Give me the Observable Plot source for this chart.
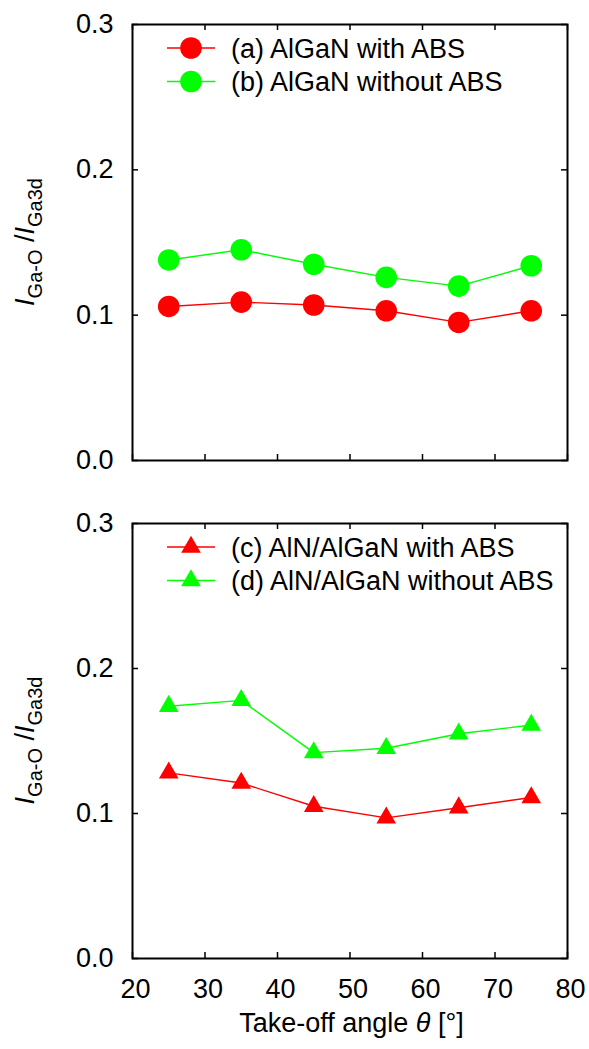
<!DOCTYPE html>
<html><head><meta charset="utf-8">
<script src="https://cdn.jsdelivr.net/npm/d3@7"></script>
<script src="https://cdn.jsdelivr.net/npm/@observablehq/plot@0.6"></script>
<style>
body{margin:0;background:#fff;}
#chart svg{display:block;}
</style>
</head><body><div id="chart"></div>
<script>
// ---- data ----
const angles = [25, 35, 45, 55, 65, 75];
const alganWith = [0.106, 0.109, 0.107, 0.103, 0.095, 0.103];
const alganWithout = [0.138, 0.145, 0.135, 0.126, 0.120, 0.134];
const alnWith = [0.128, 0.121, 0.105, 0.097, 0.104, 0.111];
const alnWithout = [0.174, 0.178, 0.142, 0.145, 0.155, 0.161];
const labelsTop = ["(a) AlGaN with ABS", "(b) AlGaN without ABS"];
const labelsBottom = ["(c) AlN/AlGaN with ABS", "(d) AlN/AlGaN without ABS"];
const colors = ["#ff0000", "#00ff00"];
const xTicks = [20, 30, 40, 50, 60, 70, 80];
const yTicks = [0, 0.1, 0.2, 0.3];
const xLabel = "Take-off angle ";
const xLabelSym = "θ";
const xLabelUnit = " [°]";

const FONT = "'Liberation Sans', Arial, Helvetica, sans-serif";
const W = 589;
const ML = 132, MR = 22;
const PW = W - ML - MR;

function rows(labels, seriesArr) {
  const out = [];
  labels.forEach((lab, i) => {
    angles.forEach((a, j) => out.push({angle: a, v: seriesArr[i][j], series: lab, color: colors[i]}));
  });
  return out;
}

function panel({height, marginTop, marginBottom, labels, series, symbol, r, showX}) {
  const PH = height - marginTop - marginBottom;
  const data = rows(labels, series);
  const marks = [
    Plot.ruleX(xTicks, {x: d => d, insetTop: PH - 6, stroke: "#000", strokeWidth: 1.5}),
    Plot.ruleX(xTicks, {x: d => d, insetBottom: PH - 6, stroke: "#000", strokeWidth: 1.5}),
    Plot.ruleY(yTicks, {y: d => d, insetRight: PW - 6, stroke: "#000", strokeWidth: 1.5}),
    Plot.ruleY(yTicks, {y: d => d, insetLeft: PW - 6, stroke: "#000", strokeWidth: 1.5}),
  ];
  labels.forEach((lab, i) => {
    const d = data.filter(p => p.series === lab);
    marks.push(Plot.line(d, {x: "angle", y: "v", stroke: colors[i], strokeWidth: 1.4}));
    marks.push(Plot.dot(d, {x: "angle", y: "v", fill: colors[i], stroke: "none", r, symbol}));
  });
  marks.push(Plot.axisY({ticks: yTicks, tickSize: 0, tickPadding: 19, tickFormat: d3.format(".1f"), label: null, fontSize: 27}));
  if (showX) marks.push(Plot.axisX({ticks: xTicks, tickSize: 0, tickPadding: 20, label: null, fontSize: 27, dx: 3}));
  marks.push(Plot.frame({stroke: "#000", strokeWidth: 2}));
  const svg = Plot.plot({
    width: W, height, marginTop, marginBottom, marginLeft: ML, marginRight: MR,
    x: {domain: [20, 80], axis: showX ? undefined : null},
    y: {domain: [0, 0.3]},
    style: {fontFamily: FONT, fontSize: "27px", color: "#000", background: "#fff", overflow: "visible"},
    marks
  });
  const s = d3.select(svg);
  // y-axis label with subscripts
  const cy = marginTop + PH / 2;
  const t = s.append("text")
    .attr("transform", `translate(34,${cy}) rotate(-90)`)
    .attr("text-anchor", "middle")
    .attr("font-family", FONT).attr("font-size", 27).attr("fill", "#000");
  t.append("tspan").attr("font-style", "italic").text("I");
  t.append("tspan").attr("font-size", 20).attr("dy", 8).text("Ga-O");
  t.append("tspan").attr("dy", -8).text(" /");
  t.append("tspan").attr("font-style", "italic").text("I");
  t.append("tspan").attr("font-size", 20).attr("dy", 8).text("Ga3d");
  // legend
  const sym = symbol === "triangle" ? d3.symbolTriangle : d3.symbolCircle;
  labels.forEach((lab, i) => {
    const ly = marginTop + 24 + i * 33.5;
    const g = s.append("g");
    g.append("line").attr("x1", 167).attr("x2", 215).attr("y1", ly).attr("y2", ly)
      .attr("stroke", colors[i]).attr("stroke-width", 1.4);
    g.append("path").attr("transform", `translate(191,${ly})`)
      .attr("d", d3.symbol(sym, Math.PI * r * r)()).attr("fill", colors[i]);
    g.append("text").attr("x", 231).attr("y", ly).attr("dy", "0.36em")
      .attr("text-anchor", "start")
      .attr("font-family", FONT).attr("font-size", 27).attr("fill", "#000").text(lab);
  });
  if (showX) {
    const xl = s.append("text").attr("x", ML + PW / 2 + 2).attr("y", 1032 - 490)
      .attr("text-anchor", "middle").attr("font-family", FONT).attr("font-size", 27).attr("fill", "#000");
    xl.append("tspan").text(xLabel);
    xl.append("tspan").attr("font-style", "italic").text(xLabelSym);
    xl.append("tspan").text(xLabelUnit);
  }
  return svg;
}

const root = document.getElementById("chart");
root.appendChild(panel({height: 490, marginTop: 24, marginBottom: 30, labels: labelsTop,
  series: [alganWith, alganWithout], symbol: "circle", r: 10.8, showX: false}));
root.appendChild(panel({height: 559, marginTop: 33, marginBottom: 91, labels: labelsBottom,
  series: [alnWith, alnWithout], symbol: "triangle", r: 7.3, showX: true}));
</script>
</body></html>
